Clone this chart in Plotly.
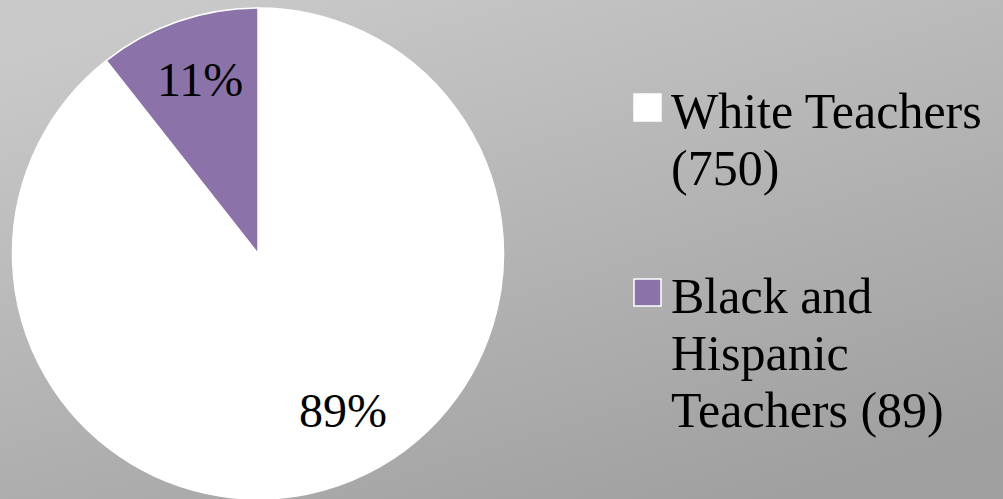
import base64
import plotly.graph_objects as go

# ---- data ----
categories = ["White Teachers", "Black and Hispanic Teachers"]
values = [750, 89]
legend_lines = [["White Teachers", "(750)"], ["Black and", "Hispanic", "Teachers (89)"]]
colors = ["#FFFFFF", "#8B73A9"]

W, H = 1003, 499
FONT = "Liberation Serif"

total = sum(values)
pct_labels = [f"{round(v * 100 / total)}%" for v in values]

# background gradient as an svg image
svg = (
    '<svg xmlns="http://www.w3.org/2000/svg" width="100" height="100" '
    'viewBox="0 0 100 100" preserveAspectRatio="none">'
    '<defs><linearGradient id="g" x1="0.2" y1="0" x2="0.8" y2="1">'
    '<stop offset="0" stop-color="#c9c9c9"/><stop offset="1" stop-color="#9f9f9f"/>'
    '</linearGradient></defs><rect width="100" height="100" fill="url(#g)"/></svg>'
)
bg_src = "data:image/svg+xml;base64," + base64.b64encode(svg.encode()).decode()

fig = go.Figure(
    go.Pie(
        labels=categories,
        values=values,
        marker=dict(colors=colors, line=dict(color="#FFFFFF", width=1.5)),
        sort=False,
        direction="clockwise",
        rotation=0,
        textinfo="none",
        hoverinfo="label+value+percent",
        showlegend=False,
        domain=dict(x=[12.5 / W, 503.5 / W], y=[0.0, (H - 8) / H]),
    )
)

def px_x(x):
    return x / W

def px_y(y):
    return 1 - y / H

annotations = []
# slice percentage labels
label_pos = [(343, 410), (200, 80)]
for txt, (x, y) in zip(pct_labels, label_pos):
    annotations.append(dict(
        x=px_x(x), y=px_y(y), xref="paper", yref="paper", text=txt, showarrow=False,
        xanchor="center", yanchor="middle", font=dict(family=FONT, size=48, color="#000000"),
    ))

# custom legend
shapes = []
item_tops = [94, 279]
line_step = 57
for lines, col, top in zip(legend_lines, colors, item_tops):
    shapes.append(dict(
        type="rect", xref="paper", yref="paper",
        x0=px_x(634), x1=px_x(661), y0=px_y(top), y1=px_y(top + 27),
        fillcolor=col, line=dict(color="#FFFFFF", width=1.5), layer="above",
    ))
    for i, ln in enumerate(lines):
        annotations.append(dict(
            x=px_x(669), y=px_y(top + 17 + i * line_step), xref="paper", yref="paper",
            text=ln, showarrow=False, xanchor="left", yanchor="middle",
            font=dict(family=FONT, size=50, color="#000000"),
        ))

fig.update_layout(
    width=W, height=H,
    margin=dict(l=0, r=0, t=0, b=0),
    paper_bgcolor="#b4b4b4",
    plot_bgcolor="rgba(0,0,0,0)",
    images=[dict(source=bg_src, xref="paper", yref="paper", x=0, y=1, sizex=1, sizey=1,
                 xanchor="left", yanchor="top", sizing="stretch", layer="below")],
    annotations=annotations,
    shapes=shapes,
    showlegend=False,
)

fig.write_html(
    "out.html",
    config={"displayModeBar": False},
    post_script="document.body.style.margin='0';document.body.style.overflow='hidden';",
)
